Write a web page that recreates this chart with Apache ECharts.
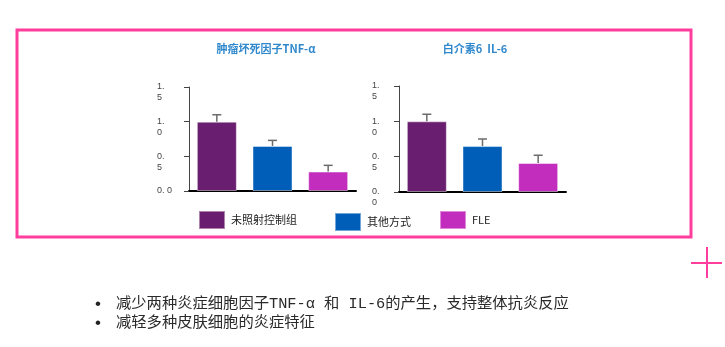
<!DOCTYPE html>
<html><head><meta charset="utf-8">
<script src="https://cdn.jsdelivr.net/npm/echarts@6/dist/echarts.min.js"></script>
<style>html,body{margin:0;padding:0;background:#fff}#c{width:725px;height:347px}</style>
</head><body><div id="c"></div>
<script>
const categories = ['未照射控制组', '其他方式', 'FLE'];
const chartTitles = ['肿瘤坏死因子TNF-α', '白介素6  IL-6'];
// values per chart [TNF-α, IL-6]
const controlVals = [1.0, 1.0];
const otherVals = [0.65, 0.65];
const fleVals = [0.28, 0.41];
const controlErr = [1.1, 1.1];
const otherErr = [0.73, 0.75];
const fleErr = [0.37, 0.52];
const yTicks1 = {0: '0. 0', 0.5: '\n0.\n5', 1: '\n1.\n0', 1.5: '\n1.\n5'};
const yTicks2 = {0: '\n0.\n0', 0.5: '\n0.\n5', 1: '\n1.\n0', 1.5: '\n1.\n5'};
const bulletLines = ['减少两种炎症细胞因子TNF-α 和 IL-6的产生，支持整体抗炎反应', '减轻多种皮肤细胞的炎症特征'];

const colors = ['#6a1e70', '#005eb8', '#c32dbd'];
const pink = '#ff3d9c';
const valSets = [controlVals, otherVals, fleVals];
const errSets = [controlErr, otherErr, fleErr];

const grids = [
  {left: 189, top: 87, width: 167, height: 104},
  {left: 399, top: 86, width: 167, height: 106}
];
const tickMaps = [yTicks1, yTicks2];
const labelMargins = [32, 27];

const series = [];
grids.forEach((g, gi) => {
  categories.forEach((name, k) => {
    series.push({
      name: name, type: 'bar', xAxisIndex: gi, yAxisIndex: gi,
      barWidth: 40, barGap: '-100%',
      itemStyle: {color: colors[k], borderColor: 'rgba(255,255,255,0.45)', borderWidth: 1},
      data: categories.map((c, i) => i === k ? valSets[k][gi] : '-'),
      z: 2
    });
  });
  series.push({
    type: 'custom', xAxisIndex: gi, yAxisIndex: gi, z: 3,
    data: categories.map((c, i) => [i, valSets[i][gi], errSets[i][gi]]),
    renderItem: function (params, api) {
      const b = api.coord([api.value(0), api.value(1)]);
      const t = api.coord([api.value(0), api.value(2)]);
      const st = {stroke: '#6b6b6b', lineWidth: 1.5};
      return {type: 'group', children: [
        {type: 'line', shape: {x1: b[0], y1: b[1], x2: t[0], y2: t[1]}, style: st},
        {type: 'line', shape: {x1: t[0] - 4.5, y1: t[1], x2: t[0] + 4.5, y2: t[1]}, style: st}
      ]};
    }
  });
});

const option = {
  animation: false,
  title: chartTitles.map((t, i) => ({
    text: t, left: i === 0 ? 261 : 470, top: 38, textAlign: 'center',
    textStyle: {color: '#2f88cc', fontSize: 11, fontWeight: 'bold', fontFamily: 'Noto Sans CJK SC'}
  })),
  legend: categories.map((name, k) => ({
    data: [name], left: [198, 334, 439][k], top: [210, 212, 210][k], padding: 0,
    itemWidth: 26, itemHeight: 18, icon: 'rect', selectedMode: true,
    textStyle: {color: '#222', fontSize: 11, fontFamily: 'Noto Sans CJK SC', padding: [k === 1 ? 2 : -6, 0, 0, 1]}
  })),
  grid: grids,
  xAxis: grids.map((g, gi) => ({
    type: 'category', gridIndex: gi, data: categories,
    axisLine: {show: true, lineStyle: {color: '#000', width: 2}},
    axisTick: {show: false}, axisLabel: {show: false}
  })),
  yAxis: grids.map((g, gi) => ({
    type: 'value', gridIndex: gi, min: 0, max: 1.5, interval: 0.5,
    splitLine: {show: false},
    axisLine: {show: true, lineStyle: {color: '#444', width: 1}},
    axisTick: {show: true, length: 5, lineStyle: {color: '#444'}},
    axisLabel: {
      margin: labelMargins[gi], align: 'left', verticalAlign: 'middle',
      fontSize: 9, lineHeight: 11, color: '#444', fontFamily: 'Liberation Sans',
      formatter: v => tickMaps[gi][v]
    }
  })),
  graphic: [
    {type: 'rect', shape: {x: 17, y: 30, width: 674, height: 207}, style: {fill: null, stroke: pink, lineWidth: 3}, silent: true},
    {type: 'line', shape: {x1: 691, y1: 263, x2: 722, y2: 263}, style: {stroke: pink, lineWidth: 2}},
    {type: 'line', shape: {x1: 707, y1: 247, x2: 707, y2: 278}, style: {stroke: pink, lineWidth: 2}},
    ...bulletLines.flatMap((t, i) => [
      {type: 'text', x: 95, y: 304 + i * 19, style: {text: '•', fontSize: 17, fill: '#222', verticalAlign: 'middle', fontFamily: 'Liberation Sans'}},
      {type: 'text', x: 116, y: 304 + i * 19, style: {text: t, fontSize: 15.3, fill: '#2a2a2a', verticalAlign: 'middle', fontFamily: '"Liberation Mono", "Noto Sans CJK SC"'}}
    ])
  ],
  series: series
};
echarts.init(document.getElementById('c')).setOption(option);
</script></body></html>
